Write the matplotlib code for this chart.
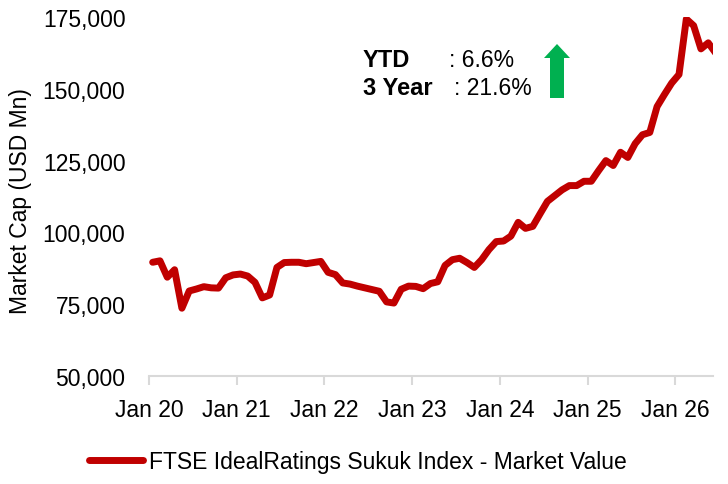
import matplotlib
matplotlib.use("Agg")
import matplotlib.pyplot as plt
from matplotlib.patches import Polygon
from matplotlib.transforms import IdentityTransform
from matplotlib.ticker import FuncFormatter
import numpy as np

plt.rcParams['font.family'] = ['Liberation Sans', 'DejaVu Sans']

# monthly market value, Jan 2020 onwards (USD Mn)
market_value = [
    89600, 90100, 84400, 87000, 73600, 79600, 80300, 81100, 80700, 80600, 84200, 85200,   # 2020
    85500, 84800, 82600, 77200, 78200, 87800, 89500, 89600, 89600, 89100, 89500, 89900,   # 2021
    86100, 85300, 82400, 82000, 81300, 80700, 80100, 79500, 75800, 75400, 80200, 81300,   # 2022
    81200, 80400, 82200, 82800, 88500, 90500, 91000, 89500, 87800, 90500, 94000, 96800,   # 2023
    97000, 98700, 103500, 101400, 102100, 106500, 110800, 112800, 114800, 116300, 116300, 117800,  # 2024
    117800, 121500, 125000, 123300, 127900, 126100, 130900, 134000, 134800, 143800, 148000, 152000,  # 2025
    155000, 174300, 172000, 163900, 166000, 162500,  # 2026
]
tick_labels = ['Jan 20', 'Jan 21', 'Jan 22', 'Jan 23', 'Jan 24', 'Jan 25', 'Jan 26']
y_ticks = [50000, 75000, 100000, 125000, 150000, 175000]
series_name = 'FTSE IdealRatings Sukuk Index - Market Value'
ytd_label, ytd_value = 'YTD', '6.6%'
y3_label, y3_value = '3 Year', '21.6%'

W, H = 728, 485
fig = plt.figure(figsize=(W / 100, H / 100), dpi=100)
ax = fig.add_axes([149 / W, 1 - 377 / H, (713 - 149) / W, (377 - 18) / H])

x = np.arange(len(market_value)) + 0.5
ax.plot(x, market_value, color='#c00000', lw=5, solid_capstyle='round',
        solid_joinstyle='round', label=series_name)

ax.set_xlim(0, 77.15)
ax.set_ylim(50000, 175000)
ax.set_xticks(np.arange(len(tick_labels)) * 12)
ax.set_xticklabels(tick_labels)
ax.set_yticks(y_ticks)
ax.yaxis.set_major_formatter(FuncFormatter(lambda v, p: f'{int(v):,}'))

for s in ['left', 'right', 'top']:
    ax.spines[s].set_visible(False)
ax.spines['bottom'].set_color('#d9d9d9')
ax.spines['bottom'].set_linewidth(1.5)
ax.tick_params(axis='x', direction='out', length=6.5, width=1.5, color='#d9d9d9',
               labelsize=16.5, pad=9, labelcolor='#000000')
ax.tick_params(axis='y', length=0, labelsize=16.5, pad=17, labelcolor='#000000')
ax.set_ylabel('Market Cap (USD Mn)', fontsize=16.5)
ax.yaxis.set_label_coords((32 - 149) / (713 - 149), 0.49)

# summary text
fig.text(363 / W, 1 - 67 / H, ytd_label, fontsize=17, fontweight='bold', va='baseline')
fig.text(449 / W, 1 - 67 / H, ': ' + ytd_value, fontsize=16.5, va='baseline')
fig.text(363 / W, 1 - 95 / H, y3_label, fontsize=17, fontweight='bold', va='baseline')
fig.text(454 / W, 1 - 95 / H, ': ' + y3_value, fontsize=16.5, va='baseline')

# green up arrow (display pixels)
arrow_px = [(557, 45), (570, 59), (564, 59), (564, 99), (550, 99), (550, 59), (544, 59)]
fig.patches.append(Polygon([(px, H - py) for px, py in arrow_px], closed=True,
                           facecolor='#00b050', edgecolor='none',
                           transform=IdentityTransform()))

fig.legend(loc='center', bbox_to_anchor=(358 / W, 1 - 463 / H), frameon=False,
           fontsize=16.5, handlelength=2.35, handletextpad=0.25)

fig.savefig('out.png', dpi=100)
